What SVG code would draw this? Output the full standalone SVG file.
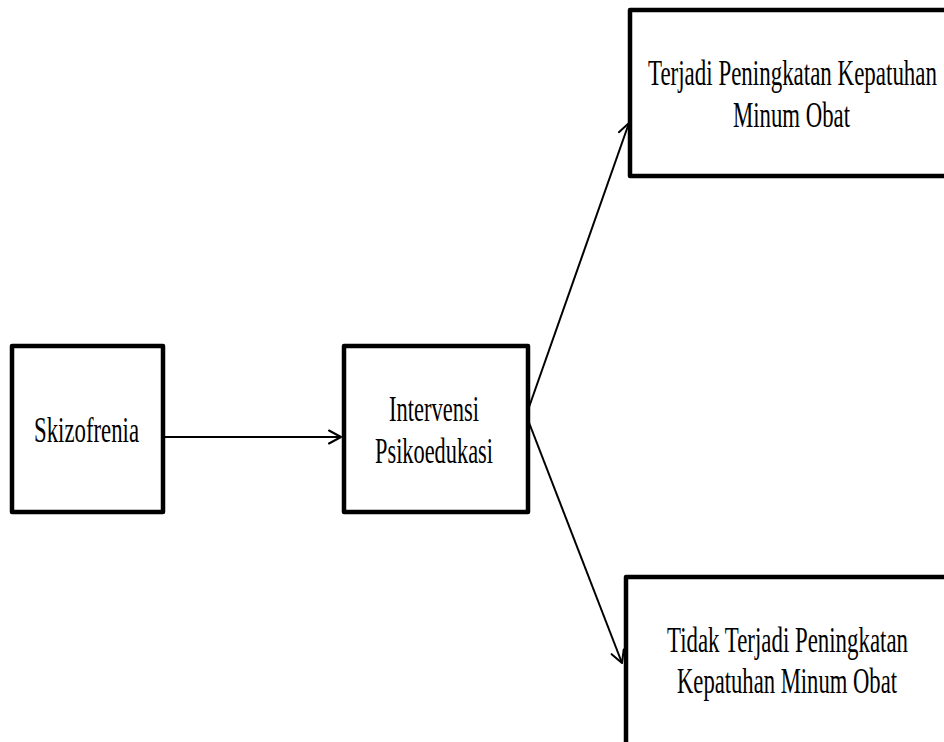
<svg xmlns="http://www.w3.org/2000/svg" width="944" height="742" viewBox="0 0 944 742">
<style>
.box{fill:#fff;stroke:#000;stroke-width:4.5;stroke-linejoin:round}
.t{font-family:"Liberation Serif","Times New Roman",serif;font-size:36px;fill:#000}
.c{stroke:#000;stroke-width:2;fill:none}
</style>
<defs>
<marker id="ah" markerUnits="userSpaceOnUse" markerWidth="16" markerHeight="16" viewBox="0 0 16 16" refX="14" refY="8" orient="auto">
<path d="M2,1.5 L14,8 L2,14.5" fill="none" stroke="#000" stroke-width="2" stroke-linecap="round" stroke-linejoin="round"/>
</marker>
</defs>
<rect width="944" height="742" fill="#fff"/>
<g id="connectors">
<line class="c" x1="165" y1="437" x2="341" y2="437" marker-end="url(#ah)"/>
<line class="c" x1="528" y1="410" x2="629" y2="123" marker-end="url(#ah)"/>
<line class="c" x1="528" y1="420" x2="622" y2="663" marker-end="url(#ah)"/>
</g>
<g id="skizofrenia">
<rect class="box" x="12" y="346" width="151" height="166"/>
<text class="t" x="34" y="442" textLength="105" lengthAdjust="spacingAndGlyphs">Skizofrenia</text>
</g>
<g id="intervensi">
<rect class="box" x="344" y="346" width="184" height="166"/>
<text class="t" x="389" y="421" textLength="90" lengthAdjust="spacingAndGlyphs">Intervensi</text>
<text class="t" x="375" y="463" textLength="118" lengthAdjust="spacingAndGlyphs">Psikoedukasi</text>
</g>
<g id="terjadi">
<rect class="box" x="630" y="10" width="330" height="166"/>
<text class="t" x="648" y="85" textLength="289" lengthAdjust="spacingAndGlyphs">Terjadi Peningkatan Kepatuhan</text>
<text class="t" x="733" y="127" textLength="117" lengthAdjust="spacingAndGlyphs">Minum Obat</text>
</g>
<g id="tidak">
<rect class="box" x="626" y="577" width="330" height="180"/>
<text class="t" x="667" y="652" textLength="241" lengthAdjust="spacingAndGlyphs">Tidak Terjadi Peningkatan</text>
<text class="t" x="677" y="693" textLength="220" lengthAdjust="spacingAndGlyphs">Kepatuhan Minum Obat</text>
</g>
</svg>
